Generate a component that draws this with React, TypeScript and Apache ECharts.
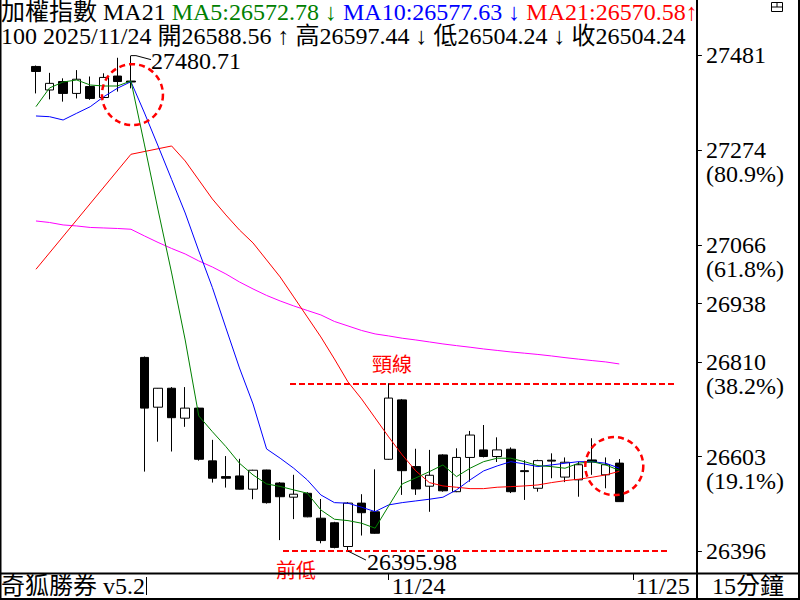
import React, { useEffect, useRef } from 'react';
import * as echarts from 'echarts';

// ---- data ----
const sessionTimes = ['09:00', '09:15', '09:30', '09:45', '10:00', '10:15', '10:30', '10:45', '11:00', '11:15', '11:30', '11:45', '12:00', '12:15', '12:30', '12:45', '13:00', '13:15'];
const barDays = ['11/20', '11/21', '11/24', '11/25'];
const shownDates = ['11/24', '11/25'];

const candleOpen = [27457, 27405.5, 27424, 27398, 27413, 27389, 27436, 27425, 26820, 26711, 26752.5, 26687, 26709, 26593.5, 26559, 26560.5, 26531.5, 26573.5, 26545, 26514, 26522.5, 26468, 26458, 26406, 26501, 26482, 26597, 26727, 26581, 26538, 26606.5, 26526, 26601, 26617.5, 26603, 26619, 26572, 26533.5, 26595, 26558, 26552, 26595.5, 26563, 26588.56];
const candleClose = [27446, 27420, 27398, 27429, 27387, 27433, 27424, 27423, 26709, 26752.5, 26688, 26709, 26597, 26555.5, 26555.5, 26531.5, 26573, 26502, 26515, 26520.5, 26471, 26419, 26404, 26501, 26480, 26435, 26731, 26572, 26532, 26562, 26528, 26601, 26650, 26603, 26617.5, 26526, 26570, 26594, 26593, 26590.5, 26585, 26591, 26585, 26504.24];
const candleLow = [27398, 27385, 27380, 27387, 27384, 27387, 27402, 27409, 26570, 26635.5, 26614, 26668, 26594, 26546, 26535, 26531, 26509.5, 26500, 26420, 26466, 26470, 26413, 26402, 26395.98, 26430, 26434, 26596, 26519, 26519, 26482, 26526, 26525, 26548, 26601, 26591, 26523, 26508, 26526, 26555.5, 26547, 26515, 26563, 26533.5, 26504.24];
const candleHigh = [27459, 27443, 27431, 27449, 27435, 27442, 27476, 27480.71, 26822, 26753, 26755, 26755, 26710, 26639.5, 26604, 26598, 26574, 26574, 26547, 26563, 26525, 26510, 26460, 26503, 26520.5, 26575, 26763.5, 26729, 26620, 26617.5, 26608, 26621, 26659, 26672, 26645, 26623, 26595, 26596, 26610, 26601, 26592, 26643, 26601, 26597.44];

const ma5 = [27369, 27410, 27423, 27427.4, 27416.4, 27414.2, 27414.2, 27425.2, 27285.1, 27142.8, 27004.9, 26858.2, 26691.9, 26657.5, 26624.7, 26588.3, 26562.7, 26543, 26537.5, 26529.9, 26522.7, 26486.1, 26465.7, 26462.7, 26457, 26446.1, 26494.9, 26543, 26556.2, 26569.9, 26584.6, 26559, 26577.4, 26591.8, 26599.3, 26599.3, 26591.8, 26583.1, 26580.9, 26577.4, 26588.3, 26591.8, 26584.6, 26572.78];
const ma10 = [27348.6, 27347, 27339.8, 27354.5, 27368.9, 27390.8, 27409.2, 27423.7, 27355.1, 27282.9, 27209.6, 27136.2, 27053.1, 26973.2, 26884.5, 26796.9, 26718.1, 26619.6, 26599.3, 26577.4, 26551.8, 26518.9, 26502.1, 26500.8, 26492, 26482.4, 26497.1, 26502.1, 26505.8, 26509.5, 26513.9, 26529.9, 26551.8, 26571.5, 26582.4, 26591.8, 26586.8, 26580.9, 26584.6, 26588.3, 26591.8, 26591.8, 26588.3, 26577.63];
const ma21 = [27013, null, null, null, null, null, null, 27264.7, null, null, 27282.9, 27250.1, 27208.5, 27166.9, 27131.9, 27099, 27070.6, 27033.4, 26996.1, 26952.4, 26908.6, 26864.8, 26816.6, 26766.3, 26729.1, 26687.5, 26645.9, 26606.5, 26571.5, 26545.9, 26538.6, 26535.8, 26532.7, 26532.7, 26535.8, 26537.1, 26538.6, 26540.8, 26545.9, 26550.2, 26553.3, 26557.7, 26562.7, 26570.58];
const maLong = [27118.7, 27115.4, 27110, 27107.8, 27104.5, 27103.4, 27102.3, 27100.6, 27085.9, 27071.7, 27058.5, 27046.5, 27031.2, 27018, 27002.7, 26985.2, 26969.9, 26955.7, 26943.6, 26932.7, 26922.8, 26913, 26898.7, 26888.9, 26879, 26871.4, 26867, 26862, 26858.2, 26853.9, 26849.5, 26845.8, 26842.3, 26838.5, 26835.3, 26832, 26829.3, 26826.5, 26823.2, 26819.5, 26816.2, 26813.1, 26810.1, 26805.7];

const yTickValues = [27481, 27274, 27066, 26938, 26810, 26603, 26396];
const yTickPercents: Record<string, string> = { '27274': '(80.9%)', '27066': '(61.8%)', '26810': '(38.2%)', '26603': '(19.1%)' };
const necklineValue = 26762;

const headerLine1 = [
  { text: '加權指數 MA21 ', color: '#000000' },
  { text: 'MA5:26572.78 ↓ ', color: '#008000' },
  { text: 'MA10:26577.63 ↓ ', color: '#0000ff' },
  { text: 'MA21:26570.58↑', color: '#ff0000' },
];
const headerLine2 = '100 2025/11/24 開26588.56 ↑ 高26597.44 ↓ 低26504.24 ↓ 收26504.24';
const brandText = '奇狐勝券 v5.2';
const periodText = '15分鐘';

// 4 days of 15-min bars: last 8 of 11/20, full 11/21 and 11/24, first bars of 11/25
const barTimes: string[] = [];
sessionTimes.slice(10).forEach((t) => barTimes.push(barDays[0] + ' ' + t));
sessionTimes.forEach((t) => barTimes.push(barDays[1] + ' ' + t));
sessionTimes.forEach((t) => barTimes.push(barDays[2] + ' ' + t));
sessionTimes.slice(0, 5).forEach((t) => barTimes.push(barDays[3] + ' ' + t));

const FONT = '"Liberation Serif", "Noto Sans CJK TC", serif';
const CJK = '"Noto Sans CJK TC", sans-serif';

function isShownDate(v: string) {
  const [d, t] = v.split(' ');
  return t === sessionTimes[0] && shownDates.includes(d);
}

export default function App() {
  const ref = useRef<HTMLDivElement>(null);
  useEffect(() => {
    document.body.style.margin = '0';
    const chart = echarts.init(ref.current!, null, { renderer: 'svg' });
    const candleData = candleOpen.map((o, i) => [o, candleClose[i], candleLow[i], candleHigh[i]]);
    const lineSeries = (name: string, data: (number | null)[], color: string) => ({
      name,
      type: 'line',
      data,
      symbol: 'none',
      connectNulls: true,
      smooth: false,
      z: 3,
      lineStyle: { color, width: 1 },
      silent: true,
    });
    chart.setOption({
      animation: false,
      backgroundColor: '#ffffff',
      grid: { left: 29.2, right: 106.1, top: 0, bottom: 27 },
      xAxis: {
        type: 'category',
        data: barTimes,
        boundaryGap: true,
        axisLine: { show: false },
        axisTick: {
          show: true,
          alignWithLabel: true,
          interval: (_i: number, v: string) => isShownDate(v),
          length: 7,
          lineStyle: { color: '#000', width: 1 },
        },
        axisLabel: {
          interval: (_i: number, v: string) => isShownDate(v),
          formatter: (v: string) => (isShownDate(v) ? v.split(' ')[0] : ''),
          align: 'left',
          margin: 2,
          padding: [0, 0, 0, 3],
          color: '#000',
          fontFamily: FONT,
          fontSize: 24,
          lineHeight: 22,
        },
        splitLine: { show: false },
      },
      yAxis: {
        type: 'value',
        position: 'right',
        offset: 3,
        min: 26348,
        max: 27602.5,
        scale: true,
        splitLine: { show: false },
        axisLine: { show: false },
        axisTick: { show: true, customValues: yTickValues, length: 5, lineStyle: { color: '#000' } },
        axisLabel: {
          customValues: yTickValues,
          formatter: (v: number) => {
            const pct = yTickPercents[String(Math.round(v))];
            return pct ? '\n' + Math.round(v) + '\n' + pct : String(Math.round(v));
          },
          color: '#000',
          fontFamily: FONT,
          fontSize: 24,
          lineHeight: 24,
          margin: 9,
          align: 'left',
        },
      },
      series: [
        {
          type: 'candlestick',
          data: candleData,
          barWidth: 9,
          z: 2,
          silent: true,
          itemStyle: { color: '#ffffff', color0: '#000000', borderColor: '#000000', borderColor0: '#000000', borderWidth: 1 },
        },
        lineSeries('MA60', maLong, '#ff00ff'),
        lineSeries('MA21', ma21, '#ff0000'),
        lineSeries('MA10', ma10, '#0000ff'),
        lineSeries('MA5', ma5, '#008000'),
      ],
    });

    const hiIdx = candleHigh.indexOf(Math.max(...candleHigh));
    const loIdx = candleLow.indexOf(Math.min(...candleLow));
    const hi = chart.convertToPixel({ gridIndex: 0 }, [hiIdx, candleHigh[hiIdx]]) as number[];
    const lo = chart.convertToPixel({ gridIndex: 0 }, [loIdx, candleLow[loIdx]]) as number[];
    const neckY = chart.convertToPixel({ yAxisIndex: 0 }, necklineValue) as number;
    const lowY = lo[1];
    const last = chart.convertToPixel({ gridIndex: 0 }, [candleClose.length - 1, candleOpen[candleOpen.length - 1]]) as number[];

    const red = '#ff0000';
    const rich1: Record<string, any> = {};
    let t1 = '';
    headerLine1.forEach((s, i) => {
      rich1['s' + i] = { fill: s.color, color: s.color, font: '24px ' + FONT, lineHeight: 22 };
      t1 += '{s' + i + '|' + s.text + '}';
    });

    chart.setOption({
      graphic: [
        // header
        { type: 'text', x: 1, y: 1, z: 10, style: { text: t1, rich: rich1, font: '24px ' + FONT, lineHeight: 22, fill: '#000', verticalAlign: 'top', textVerticalAlign: 'top' } },
        { type: 'text', x: 1, y: 26, z: 10, style: { text: headerLine2, font: '24px ' + FONT, lineHeight: 20, fill: '#000', verticalAlign: 'top', textVerticalAlign: 'top' } },
        // frame
        { type: 'line', z: 11, shape: { x1: 697, y1: 0, x2: 697, y2: 600 }, style: { stroke: '#000', lineWidth: 2 } },
        { type: 'line', z: 11, shape: { x1: 0, y1: 573.5, x2: 800, y2: 573.5 }, style: { stroke: '#000', lineWidth: 2 } },
        { type: 'line', z: 11, shape: { x1: 0, y1: 599, x2: 800, y2: 599 }, style: { stroke: '#000', lineWidth: 2 } },
        { type: 'line', z: 11, shape: { x1: 0.5, y1: 0, x2: 0.5, y2: 600 }, style: { stroke: '#000', lineWidth: 2 } },
        { type: 'line', z: 11, shape: { x1: 799, y1: 0, x2: 799, y2: 600 }, style: { stroke: '#000', lineWidth: 2 } },
        // icon
        { type: 'rect', z: 10, shape: { x: 771.5, y: 2.5, width: 11, height: 9 }, style: { fill: '#fff', stroke: '#000', lineWidth: 1 } },
        { type: 'line', z: 10, shape: { x1: 771.5, y1: 7, x2: 782.5, y2: 7 }, style: { stroke: '#000', lineWidth: 1 } },
        { type: 'line', z: 10, shape: { x1: 777, y1: 2.5, x2: 777, y2: 7 }, style: { stroke: '#000', lineWidth: 1 } },
        // bottom strip texts
        { type: 'text', x: 1, y: 586, z: 10, style: { text: brandText, font: '24px ' + FONT, lineHeight: 22, fill: '#000', verticalAlign: 'middle', textVerticalAlign: 'middle' } },
        { type: 'line', z: 10, shape: { x1: 146.5, y1: 577, x2: 146.5, y2: 595 }, style: { stroke: '#000', lineWidth: 1 } },
        { type: 'text', x: 748, y: 586, z: 10, style: { text: periodText, font: '24px ' + FONT, lineHeight: 22, fill: '#000', align: 'center', textAlign: 'center', verticalAlign: 'middle', textVerticalAlign: 'middle' } },
        // high label
        { type: 'polyline', z: 10, shape: { points: [[hi[0], hi[1]], [hi[0] + 5, hi[1]], [hi[0] + 20, hi[1] + 4]] }, style: { stroke: '#000', lineWidth: 1, fill: 'none' } },
        { type: 'text', x: hi[0] + 20, y: hi[1] + 5, z: 10, style: { text: String(candleHigh[hiIdx]), font: '24px ' + FONT, lineHeight: 18, fill: '#000', verticalAlign: 'middle', textVerticalAlign: 'middle' } },
        // low label
        { type: 'polyline', z: 10, shape: { points: [[lo[0], lo[1]], [lo[0] + 4, lo[1] + 2], [lo[0] + 18, lo[1] + 9]] }, style: { stroke: '#000', lineWidth: 1, fill: 'none' } },
        { type: 'text', x: lo[0] + 19, y: lo[1] + 11, z: 10, style: { text: String(candleLow[loIdx]), font: '24px ' + FONT, lineHeight: 20, fill: '#000', verticalAlign: 'middle', textVerticalAlign: 'middle' } },
        // neckline
        { type: 'line', z: 9, shape: { x1: 290, y1: neckY, x2: 676, y2: neckY }, style: { stroke: red, lineWidth: 2, lineDash: [6, 3] } },
        { type: 'text', x: 392, y: neckY - 20, z: 10, style: { text: '頸線', font: '20px ' + CJK, fill: red, align: 'center', textAlign: 'center', verticalAlign: 'middle', textVerticalAlign: 'middle' } },
        // previous low
        { type: 'line', z: 9, shape: { x1: 283, y1: lowY, x2: 667, y2: lowY }, style: { stroke: red, lineWidth: 2, lineDash: [6, 3] } },
        { type: 'text', x: 296, y: lowY + 18, z: 10, style: { text: '前低', font: '20px ' + CJK, fill: red, align: 'center', textAlign: 'center', verticalAlign: 'middle', textVerticalAlign: 'middle' } },
        // circles
        { type: 'circle', z: 9, shape: { cx: hi[0] + 1.5, cy: hi[1] + 39, r: 30.5 }, style: { fill: 'none', stroke: red, lineWidth: 2.5, lineDash: [6, 4] } },
        { type: 'circle', z: 9, shape: { cx: last[0] - 5, cy: last[1] + 3, r: 29 }, style: { fill: 'none', stroke: red, lineWidth: 2.5, lineDash: [6, 4] } },
      ],
    });
    return () => chart.dispose();
  }, []);
  return <div ref={ref} style={{ position: 'fixed', left: 0, top: 0, width: 800, height: 600, background: '#fff' }} />;
}
